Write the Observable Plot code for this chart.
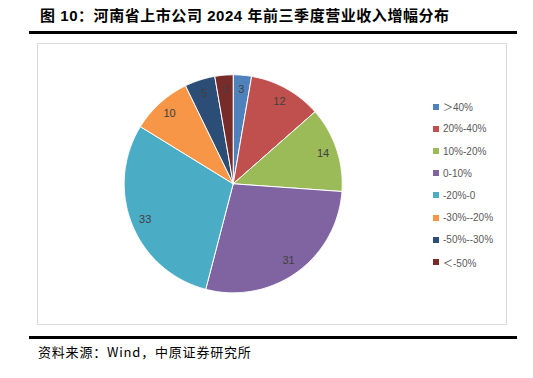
<!DOCTYPE html>
<html><head><meta charset="utf-8">
<script src="https://cdn.jsdelivr.net/npm/d3@7"></script>
<script src="https://cdn.jsdelivr.net/npm/@observablehq/plot@0.6"></script>
<style>
body{margin:0;background:#fff;width:533px;height:378px;position:relative;overflow:hidden;font-family:"Liberation Sans","Noto Sans CJK SC",sans-serif;}
#title{position:absolute;left:40px;top:6px;line-height:20px;font-weight:bold;font-size:15px;font-family:"Liberation Sans","Noto Sans CJK SC",sans-serif;letter-spacing:0.55px;color:#000;white-space:nowrap}
.rule{position:absolute;left:29px;width:488px;height:3px;background:#000}
#box{position:absolute;left:37px;top:43px;width:468px;height:280px;border:1px solid #d9d9d9}
#box svg{position:absolute;left:0;top:0}
#legend{position:absolute;left:433px;top:95.6px}
.item{display:flex;align-items:center;height:22.2px;font-size:10px;font-family:"Liberation Sans","Noto Sans CJK SC",sans-serif;color:#595959;white-space:nowrap}
.sw{width:6px;height:6px;margin-right:4px;flex:none}
#source{position:absolute;left:38px;top:344px;line-height:16px;font-size:13px;font-family:"Noto Sans CJK SC",sans-serif;letter-spacing:0.8px;color:#000;white-space:nowrap}
</style></head>
<body>
<div id="title">图 10：河南省上市公司 2024 年前三季度营业收入增幅分布</div>
<div class="rule" style="top:31px"></div>
<div id="box"></div>
<div id="legend"></div>
<div class="rule" style="top:336px"></div>
<div id="source">资料来源：Wind，中原证券研究所</div>
<script>
const categories = ["＞40%", "20%-40%", "10%-20%", "0-10%", "-20%-0", "-30%--20%", "-50%--30%", "＜-50%"];
const values = [3, 12, 14, 31, 33, 10, 5, 3];
const colors = ["#4F81BD", "#C0504D", "#9BBB59", "#8064A2", "#4BACC6", "#F79646", "#2C4D75", "#772C2A"];

const data = categories.map((c, i) => ({category: c, value: values[i]}));
const arcs = d3.pie().sort(null).value(d => d.value)(data);

// polygon points per slice (unit radius, y up)
const pts = [];
arcs.forEach(a => {
  const c = a.data.category;
  pts.push({category: c, x: 0, y: 0});
  const n = Math.max(2, Math.ceil((a.endAngle - a.startAngle) / 0.01));
  for (let k = 0; k <= n; k++) {
    const t = a.startAngle + (a.endAngle - a.startAngle) * k / n;
    pts.push({category: c, x: Math.sin(t), y: Math.cos(t)});
  }
  pts.push({category: c, x: 0, y: 0});
});
const labels = arcs.map(a => {
  const m = (a.startAngle + a.endAngle) / 2;
  return {text: String(a.data.value), x: 0.87 * Math.sin(m), y: 0.87 * Math.cos(m)};
});

const W = 468, H = 280, R = 109, cx = 194.7, cy = 139.3;
const chart = Plot.plot({
  width: W, height: H,
  margin: 0,
  x: {domain: [-cx / R, (W - cx) / R], axis: null},
  y: {domain: [-(H - cy) / R, cy / R], axis: null},
  color: {domain: categories, range: colors},
  marks: [
    Plot.line(pts, {x: "x", y: "y", z: "category", fill: "category", stroke: "white", strokeWidth: 1, strokeLinejoin: "round"}),
    Plot.text(labels, {x: "x", y: "y", text: "text", fill: "#404040", fontSize: 11, fontFamily: "Liberation Sans, sans-serif"})
  ]
});
document.getElementById("box").appendChild(chart);

const legend = document.getElementById("legend");
categories.forEach((c, i) => {
  const it = document.createElement("div");
  it.className = "item";
  const sw = document.createElement("span");
  sw.className = "sw";
  sw.style.background = colors[i];
  const tx = document.createElement("span");
  tx.textContent = c;
  it.appendChild(sw); it.appendChild(tx);
  legend.appendChild(it);
});
</script>
</body></html>
